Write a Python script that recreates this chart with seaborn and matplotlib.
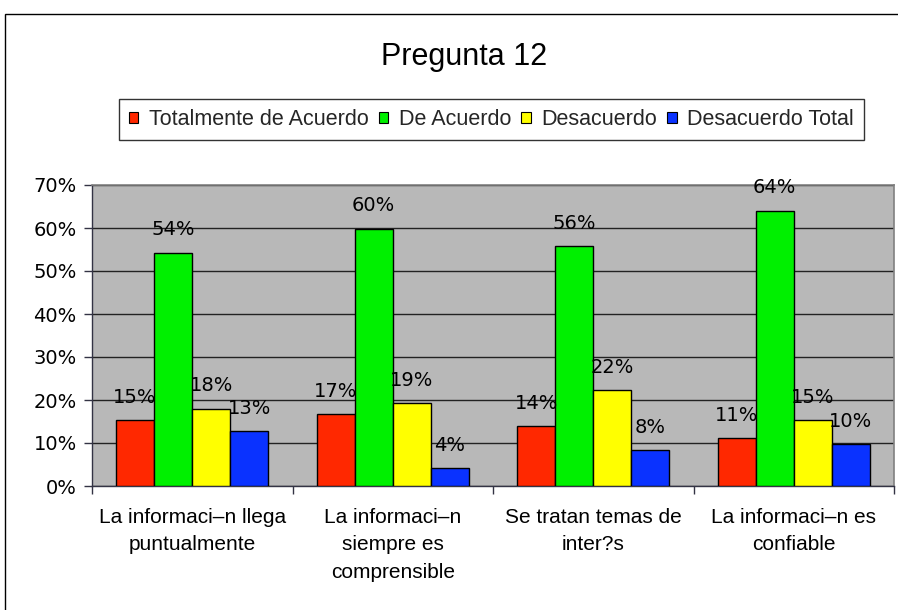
import matplotlib
matplotlib.use("Agg")
import matplotlib.pyplot as plt
from matplotlib.patches import Patch, Rectangle
from matplotlib.ticker import FixedLocator, PercentFormatter
import seaborn as sns
import pandas as pd

# Survey question 12: share of answers per statement
statements = [
    "La informaci–n llega\npuntualmente",
    "La informaci–n\nsiempre es\ncomprensible",
    "Se tratan temas de\ninter?s",
    "La informaci–n es\nconfiable",
]
responses = ["Totalmente de Acuerdo", "De Acuerdo", "Desacuerdo", "Desacuerdo Total"]
totalmente_de_acuerdo = [0.153, 0.167, 0.139, 0.111]
de_acuerdo = [0.543, 0.598, 0.557, 0.640]
desacuerdo = [0.180, 0.193, 0.223, 0.153]
desacuerdo_total = [0.127, 0.041, 0.083, 0.097]
colors = ["#FF2800", "#00F000", "#FFFF00", "#0A32FF"]

series = [totalmente_de_acuerdo, de_acuerdo, desacuerdo, desacuerdo_total]
df = pd.DataFrame(
    [(s, r, v[i]) for r, v in zip(responses, series) for i, s in enumerate(statements)],
    columns=["statement", "response", "share"],
)

sns.set_theme(style="white")
plt.rcParams["font.family"] = ["DejaVu Sans"]

fig = plt.figure(figsize=(8.98, 6.10), dpi=100)
ax = fig.add_axes([92 / 898, 1 - 486 / 610, (894 - 92) / 898, (486 - 185) / 610])
ax.set_facecolor("#B8B8B8")

sns.barplot(
    data=df, x="statement", y="share", hue="response",
    order=statements, hue_order=responses, palette=colors,
    width=0.76, gap=0, edgecolor="black", linewidth=1.0,
    saturation=1, legend=False, ax=ax, zorder=3,
)

# value labels above each bar
for container in ax.containers:
    for bar in container:
        h = bar.get_height()
        ax.annotate(f"{h * 100:.0f}%", (bar.get_x() + bar.get_width() / 2, h),
                    xytext=(0, 12.5), textcoords="offset points",
                    ha="center", va="baseline", fontsize=14, color="black",
                    family="DejaVu Sans", zorder=5)

ax.set_ylim(0, 0.70)
ax.set_xlim(-0.5, len(statements) - 0.5)
ax.yaxis.set_major_locator(FixedLocator([i / 10 for i in range(8)]))
ax.yaxis.set_major_formatter(PercentFormatter(1.0, decimals=0))
ax.grid(axis="y", color="#222222", linewidth=1.0, zorder=1)
ax.set_axisbelow(True)
ax.set_xlabel("")
ax.set_ylabel("")

ax.tick_params(axis="y", which="major", left=True, length=6, width=1,
               color="#333344", pad=5, labelsize=14, labelcolor="black")
ax.tick_params(axis="x", which="major", bottom=False, length=0, pad=16,
               labelsize=15, labelcolor="black")
ax.xaxis.set_minor_locator(FixedLocator([i - 0.5 for i in range(len(statements) + 1)]))
ax.tick_params(axis="x", which="minor", bottom=True, length=6, width=1,
               color="#333344", direction="out")
for lbl in ax.get_xticklabels():
    lbl.set_family("Liberation Sans")
    lbl.set_linespacing(1.55)

for side in ["left", "bottom"]:
    ax.spines[side].set_color("#333344")
    ax.spines[side].set_linewidth(1.0)
for side in ["top", "right"]:
    ax.spines[side].set_color("#808080")
    ax.spines[side].set_linewidth(1.2)

# chart title and legend
fig.text(464 / 898, 1 - 65 / 610, "Pregunta 12", ha="center", va="baseline",
         fontsize=22, family="Liberation Sans", color="black")

handles = [Patch(facecolor=c, edgecolor="black", linewidth=0.8) for c in colors]
leg = fig.legend(handles, responses, loc="center", bbox_to_anchor=(491.5 / 898, 1 - 119.5 / 610),
                 ncol=4, frameon=True, fancybox=False,
                 prop={"family": "Liberation Sans", "size": 15.5},
                 handlelength=0.45, handleheight=0.45, handletextpad=0.5,
                 columnspacing=0.45, borderpad=0.45, borderaxespad=0)
leg.get_frame().set_edgecolor("black")
leg.get_frame().set_linewidth(1.0)

# outer chart frame
fig.patches.append(Rectangle((5 / 898, -0.1), 2.0, 1 - 14 / 610 + 0.1,
                             transform=fig.transFigure, fill=False,
                             edgecolor="black", linewidth=1.0))

fig.savefig("out.png", dpi=100, facecolor="white")
